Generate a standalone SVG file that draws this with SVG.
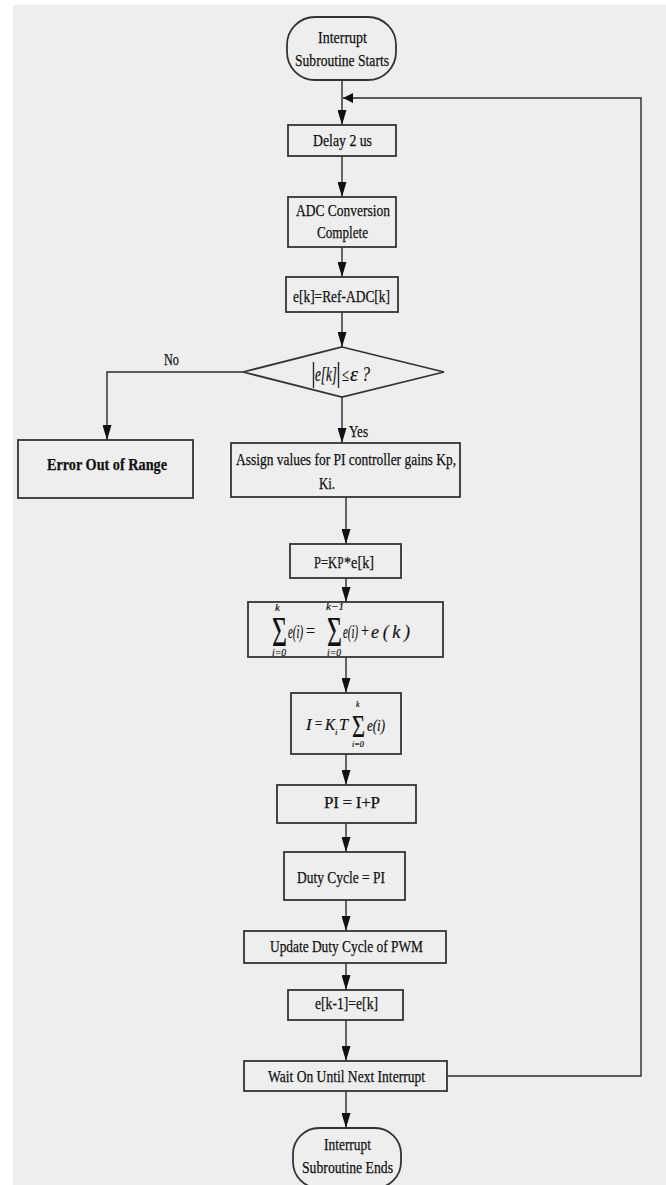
<svg xmlns="http://www.w3.org/2000/svg" width="666" height="1185" viewBox="0 0 666 1185">
<style>
.box{fill:none;stroke:#333;stroke-width:1.8}
.ln{fill:none;stroke:#2a2a2a;stroke-width:1.4}
.t{font-family:"Liberation Serif","Times New Roman",serif;font-size:17px;fill:#111;stroke:#111;stroke-width:0.25}
.b{font-weight:bold}
.m{font-family:"Liberation Serif","Times New Roman",serif;font-style:italic;fill:#111;stroke:#111;stroke-width:0.2}
.s{font-family:"Liberation Serif","Times New Roman",serif;fill:#111;stroke:#111;stroke-width:0.2}
</style>
<defs>
<marker id="ah" viewBox="0 0 15 9" refX="15" refY="4.5" markerWidth="15" markerHeight="9" orient="auto" markerUnits="userSpaceOnUse">
<path d="M0,0 L15,4.5 L0,9 z" fill="#111"/>
</marker>
<marker id="ahs" viewBox="0 0 10 10" refX="10" refY="5" markerWidth="10" markerHeight="10" orient="auto" markerUnits="userSpaceOnUse">
<path d="M0,0 L10,5 L0,10 z" fill="#111"/>
</marker>
</defs>
<rect x="0" y="0" width="666" height="1185" fill="#ffffff"/>
<rect x="13" y="5" width="653" height="1180" fill="#eeeeee"/>

<g id="connectors">
<line class="ln" x1="342" y1="80" x2="342" y2="125" marker-end="url(#ah)"/>
<polyline class="ln" points="447,1076 641,1076 641,98 343,98" marker-end="url(#ahs)"/>
<line class="ln" x1="342" y1="156" x2="342" y2="197" marker-end="url(#ah)"/>
<line class="ln" x1="342" y1="247" x2="342" y2="277" marker-end="url(#ah)"/>
<line class="ln" x1="342" y1="312" x2="342" y2="347" marker-end="url(#ah)"/>
<polyline class="ln" points="243,372 107,372 107,440" marker-end="url(#ah)"/>
<line class="ln" x1="342" y1="397" x2="342" y2="443" marker-end="url(#ah)"/>
<line class="ln" x1="346" y1="497" x2="346" y2="544" marker-end="url(#ah)"/>
<line class="ln" x1="346" y1="578" x2="346" y2="602" marker-end="url(#ah)"/>
<line class="ln" x1="346" y1="657" x2="346" y2="693" marker-end="url(#ah)"/>
<line class="ln" x1="346" y1="754" x2="346" y2="785" marker-end="url(#ah)"/>
<line class="ln" x1="346" y1="823" x2="346" y2="852" marker-end="url(#ah)"/>
<line class="ln" x1="346" y1="900" x2="346" y2="931" marker-end="url(#ah)"/>
<line class="ln" x1="346" y1="963" x2="346" y2="990" marker-end="url(#ah)"/>
<line class="ln" x1="346" y1="1020" x2="346" y2="1061" marker-end="url(#ah)"/>
<line class="ln" x1="346" y1="1091" x2="346" y2="1128" marker-end="url(#ah)"/>
<text class="t" x="164" y="365" textLength="15" lengthAdjust="spacingAndGlyphs" font-size="15">No</text>
<text class="t" x="349" y="437" textLength="19" lengthAdjust="spacingAndGlyphs" font-size="15">Yes</text>
</g>

<g id="start">
<rect class="box" x="287" y="17" width="109" height="63" rx="28" ry="28"/>
<text class="t" x="318" y="43" textLength="49" lengthAdjust="spacingAndGlyphs">Interrupt</text>
<text class="t" x="295" y="66" textLength="94" lengthAdjust="spacingAndGlyphs">Subroutine Starts</text>
</g>

<g id="delay">
<rect class="box" x="288" y="125" width="108" height="31"/>
<text class="t" x="313" y="146" textLength="59" lengthAdjust="spacingAndGlyphs">Delay 2 us</text>
</g>

<g id="adc">
<rect class="box" x="288" y="197" width="108" height="50"/>
<text class="t" x="296" y="216" textLength="94" lengthAdjust="spacingAndGlyphs">ADC Conversion</text>
<text class="t" x="317" y="238" textLength="51" lengthAdjust="spacingAndGlyphs">Complete</text>
</g>

<g id="error-calc">
<rect class="box" x="286" y="277" width="112" height="35"/>
<text class="t" x="293" y="302" textLength="97" lengthAdjust="spacingAndGlyphs">e[k]=Ref-ADC[k]</text>
</g>

<g id="decision">
<polygon class="box" points="342,347 444,372 342,397 243,372"/>
<line class="ln" x1="313.5" y1="362" x2="313.5" y2="388"/>
<line class="ln" x1="338.5" y1="362" x2="338.5" y2="388"/>
<text class="m" x="315" y="381" font-size="20" textLength="22" lengthAdjust="spacingAndGlyphs">e[k]</text>
<text class="s" x="342" y="381" font-size="18" textLength="7" lengthAdjust="spacingAndGlyphs">≤</text>
<text class="m" x="350" y="381" font-size="20" textLength="8" lengthAdjust="spacingAndGlyphs">ε</text>
<text class="m" x="362" y="381" font-size="20" textLength="8" lengthAdjust="spacingAndGlyphs">?</text>
</g>

<g id="error-out">
<rect class="box" x="18" y="440" width="175" height="58"/>
<text class="t b" x="47" y="470" textLength="120" lengthAdjust="spacingAndGlyphs">Error Out of Range</text>
</g>

<g id="assign">
<rect class="box" x="231" y="443" width="229" height="54"/>
<text class="t" x="236" y="465" textLength="220" lengthAdjust="spacingAndGlyphs">Assign values for PI controller gains Kp,</text>
<text class="t" x="319" y="489" textLength="16" lengthAdjust="spacingAndGlyphs">Ki.</text>
</g>

<g id="p-term">
<rect class="box" x="290" y="544" width="111" height="34"/>
<text class="t" x="314" y="568" textLength="23" lengthAdjust="spacingAndGlyphs">P=K</text>
<text class="t" x="337.5" y="568" font-size="12" textLength="6" lengthAdjust="spacingAndGlyphs">P</text>
<text class="t" x="344" y="568" textLength="30" lengthAdjust="spacingAndGlyphs">*e[k]</text>
</g>

<g id="sum">
<rect class="box" x="248" y="602" width="195" height="55"/>
<text class="m" x="275" y="611" font-size="11">k</text>
<text class="s" x="272" y="646" font-size="42" textLength="15" lengthAdjust="spacingAndGlyphs">Σ</text>
<text class="m" x="272" y="656" font-size="10" textLength="14" lengthAdjust="spacingAndGlyphs">i=0</text>
<text class="m" x="288" y="638" font-size="18" textLength="15" lengthAdjust="spacingAndGlyphs">e(i)</text>
<text class="s" x="306" y="637" font-size="18" textLength="9" lengthAdjust="spacingAndGlyphs">=</text>
<text class="m" x="326" y="610" font-size="10" textLength="18" lengthAdjust="spacingAndGlyphs">k−1</text>
<text class="s" x="327" y="646" font-size="42" textLength="15" lengthAdjust="spacingAndGlyphs">Σ</text>
<text class="m" x="327" y="656" font-size="10" textLength="14" lengthAdjust="spacingAndGlyphs">i=0</text>
<text class="m" x="343" y="638" font-size="18" textLength="15" lengthAdjust="spacingAndGlyphs">e(i)</text>
<text class="s" x="361" y="637" font-size="18" textLength="8" lengthAdjust="spacingAndGlyphs">+</text>
<text class="m" x="371" y="638" font-size="18" textLength="39" lengthAdjust="spacing">e(k)</text>
</g>

<g id="i-term">
<rect class="box" x="291" y="693" width="110" height="61"/>
<text class="m" x="306" y="730" font-size="17">I</text>
<text class="s" x="315" y="729" font-size="16" textLength="7" lengthAdjust="spacingAndGlyphs">=</text>
<text class="m" x="325" y="730" font-size="17" textLength="10" lengthAdjust="spacingAndGlyphs">K</text>
<text class="m" x="335" y="735" font-size="9">i</text>
<text class="m" x="339" y="730" font-size="17" textLength="9" lengthAdjust="spacingAndGlyphs">T</text>
<text class="s" x="352" y="737" font-size="32" textLength="13" lengthAdjust="spacingAndGlyphs">Σ</text>
<text class="m" x="356" y="707" font-size="8">k</text>
<text class="m" x="352" y="747" font-size="8" textLength="12" lengthAdjust="spacingAndGlyphs">i=0</text>
<text class="m" x="367" y="731" font-size="17" textLength="18" lengthAdjust="spacingAndGlyphs">e(i)</text>
</g>

<g id="pi">
<rect class="box" x="277" y="785" width="139" height="38"/>
<text class="t" x="324" y="808" textLength="56" lengthAdjust="spacing">PI = I+P</text>
</g>

<g id="duty">
<rect class="box" x="284" y="852" width="121" height="48"/>
<text class="t" x="297" y="883" textLength="88" lengthAdjust="spacingAndGlyphs">Duty Cycle = PI</text>
</g>

<g id="update">
<rect class="box" x="244" y="931" width="202" height="32"/>
<text class="t" x="270" y="952" textLength="153" lengthAdjust="spacingAndGlyphs">Update Duty Cycle of PWM</text>
</g>

<g id="shift">
<rect class="box" x="288" y="990" width="115" height="30"/>
<text class="t" x="315" y="1009" textLength="63" lengthAdjust="spacingAndGlyphs">e[k-1]=e[k]</text>
</g>

<g id="wait">
<rect class="box" x="244" y="1061" width="203" height="30"/>
<text class="t" x="268" y="1082" textLength="157" lengthAdjust="spacingAndGlyphs">Wait On Until Next Interrupt</text>
</g>

<g id="end">
<rect class="box" x="293" y="1128" width="108" height="60" rx="26" ry="26"/>
<text class="t" x="324" y="1150" textLength="47" lengthAdjust="spacingAndGlyphs">Interrupt</text>
<text class="t" x="302" y="1173" textLength="91" lengthAdjust="spacingAndGlyphs">Subroutine Ends</text>
</g>
</svg>
